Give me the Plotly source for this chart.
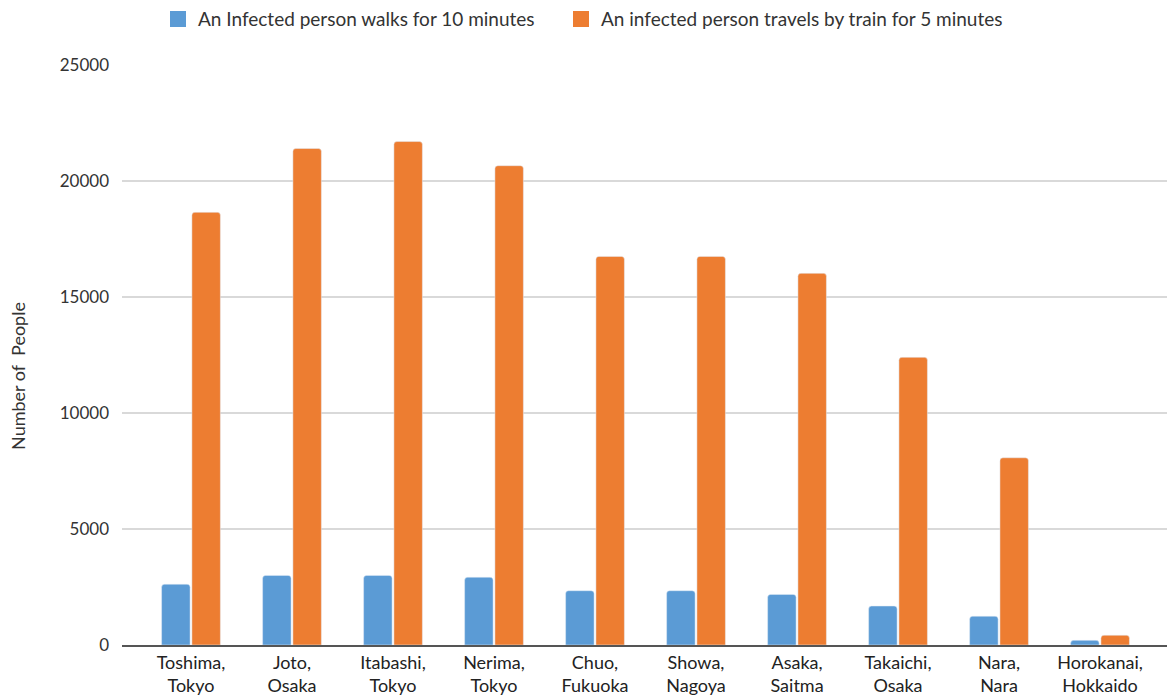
import plotly.graph_objects as go

categories = ["Toshima,<br>Tokyo", "Joto,<br>Osaka", "Itabashi,<br>Tokyo", "Nerima,<br>Tokyo",
              "Chuo,<br>Fukuoka", "Showa,<br>Nagoya", "Asaka,<br>Saitma", "Takaichi,<br>Osaka",
              "Nara,<br>Nara", "Horokanai,<br>Hokkaido"]
walk_values = [2620, 3000, 3000, 2920, 2340, 2340, 2180, 1680, 1240, 200]
train_values = [18650, 21400, 21700, 20660, 16750, 16750, 16020, 12400, 8070, 420]
series_names = ["An Infected person walks for 10 minutes",
                "An infected person travels by train for 5 minutes"]
y_ticks = [0, 5000, 10000, 15000, 20000, 25000]
y_tick_labels = ["0", "5000", "10000", "15000", "20000", "25000"]

BLUE = "#5B9BD5"
ORANGE = "#ED7D31"
FONT = "Lato"

fig = go.Figure()
fig.add_trace(go.Bar(x=categories, y=walk_values, name=series_names[0],
                     marker=dict(color=BLUE, cornerradius=3), showlegend=False))
fig.add_trace(go.Bar(x=categories, y=train_values, name=series_names[1],
                     marker=dict(color=ORANGE, cornerradius=3), showlegend=False))
# legend entries with square swatches (one legend box each for precise placement)
for nm, col, lg in zip(series_names, [BLUE, ORANGE], ["legend", "legend2"]):
    fig.add_trace(go.Scatter(x=[None], y=[None], mode="markers", name=nm, legend=lg,
                             marker=dict(symbol="square", size=20, color=col)))

legend_common = dict(orientation="h", xanchor="left", y=1.079, yanchor="middle",
                     font=dict(size=19, color="#333333"), itemwidth=30,
                     bgcolor="rgba(0,0,0,0)")

fig.update_layout(
    width=1167, height=699,
    margin=dict(l=122, r=0, t=63, b=54),
    paper_bgcolor="white", plot_bgcolor="white",
    barmode="group", bargap=0.4, bargroupgap=0.06,
    font=dict(family=FONT, size=16, color="#333333"),
    legend=dict(x=(158 - 122) / 1045, **legend_common),
    legend2=dict(x=(561 - 122) / 1045, **legend_common),
    xaxis=dict(type="category", range=[-0.683, 9.663], showgrid=False,
               showline=True, linecolor="#555555", linewidth=2,
               tickfont=dict(size=18, color="#222222"), ticks=""),
    yaxis=dict(range=[0, 25000], tickvals=y_ticks, ticktext=y_tick_labels,
               showgrid=True, gridcolor="#D9D9D9",
               gridwidth=2, zeroline=False, showline=False,
               tickfont=dict(size=17, color="#333333"), ticklabelstandoff=12),
)
fig.add_annotation(text="Number of  People", xref="paper", yref="paper",
                   x=(18 - 122) / 1045, y=(645 - 375) / 582, textangle=-90,
                   showarrow=False, font=dict(size=18, color="#333333"),
                   xanchor="center", yanchor="middle")

fig.write_html("out.html")
